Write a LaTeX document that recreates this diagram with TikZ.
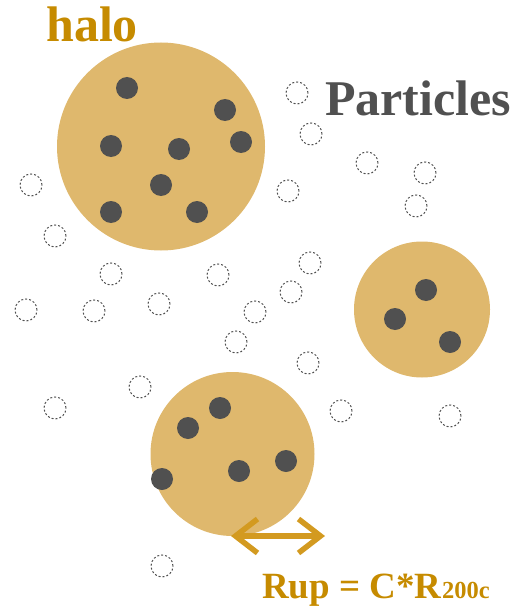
\documentclass[tikz,border=0pt]{standalone}
\usepackage{fontspec}
\setmainfont{Liberation Serif}
\usetikzlibrary{arrows.meta}
\definecolor{halofill}{HTML}{DFB86D}
\definecolor{halotext}{HTML}{C68B00}
\definecolor{arrowcol}{HTML}{D39A20}
\definecolor{dotcol}{HTML}{505050}
\tikzset{barbtip/.tip={Straight Barb[length=22pt,width=34pt,line width=5.5pt]}}
\begin{document}
\begin{tikzpicture}[x=1pt,y=-1pt,
  halobody/.style={circle,fill=halofill,inner sep=0pt,minimum size=#1},
  member/.style={circle,fill=dotcol,inner sep=0pt,minimum size=22pt},
  free/.style={circle,draw=dotcol,line width=1pt,dash pattern=on 2pt off 2pt,inner sep=0pt,minimum size=22pt},
  lbl/.style={font=\bfseries\fontsize{50}{50}\selectfont,inner sep=0pt,anchor=base west}]
\useasboundingbox (0,0) rectangle (515,607);
% halos
\node[halobody=208pt] (h1) at (161,146.5) {};
\node[halobody=136pt] (h2) at (422,309.5) {};
\node[halobody=164pt] (h3) at (232.5,454) {};
% member particles
\foreach \x/\y [count=\i] in {127/88,225/110,241/142,111/146,179/149,161/185,111/212,197/212,
  426/290,395/319,450/342,
  220/408,188/428,286/461,239/471,162/479}
  \node[member] (m\i) at (\x,\y) {};
% free particles
\foreach \x/\y [count=\i] in {297/93,311/134,367/163,425/173,416/206,288/191,31/185,55/236,
  111/274,218/275,310/263,291/292,26/310,94/311,159/304,255/312,236/342,308/363,
  140/387,55/408,341/411,450/416,162/566}
  \node[free] (f\i) at (\x,\y) {};
% labels
\node[lbl,text=halotext] (tHalo) at (46,42) {halo};
\node[lbl,text=dotcol] (tPart) at (325,116) {Particles};
\node[font=\bfseries\fontsize{37}{37}\selectfont,text=halotext,inner sep=0pt,anchor=base west] (tRup) at (262,598)
  {Rup = C*R\kern0.5pt{\fontsize{24.5}{24.5}\selectfont 200c}};
% radius arrow
\coordinate (aL) at (231,536);
\coordinate (aR) at (325,536);
\draw[arrowcol,line width=5.5pt,barbtip-barbtip] (aL) -- (aR);
\end{tikzpicture}
\end{document}
